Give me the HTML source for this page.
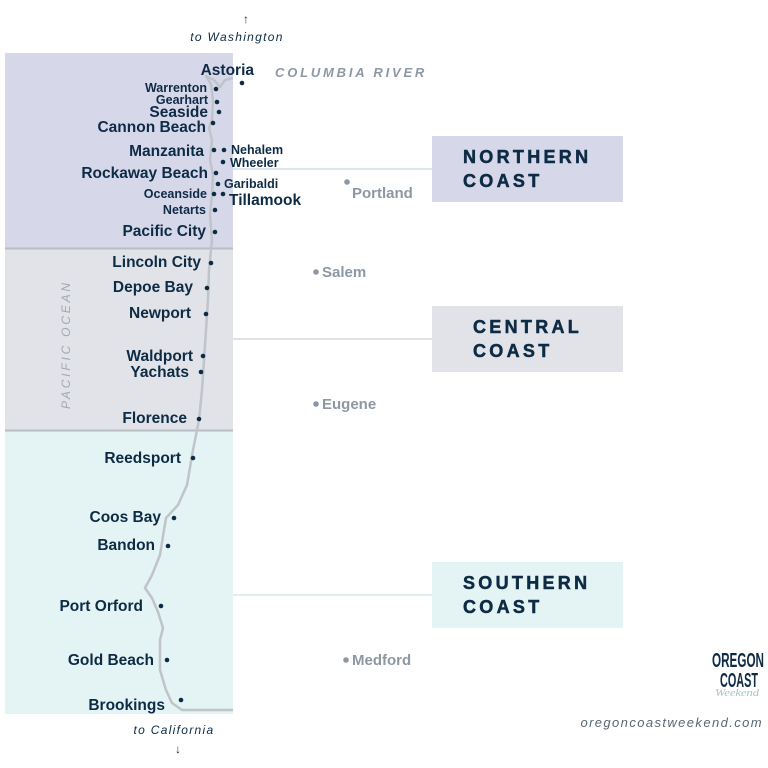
<!DOCTYPE html>
<html><head><meta charset="utf-8"><style>
html,body{margin:0;padding:0;background:#fff;}
svg{display:block;font-family:"Liberation Sans",sans-serif;}
.c{fill:#0d2b45;font-weight:bold;}
.g{fill:#8e98a4;font-weight:bold;font-size:15px;}
.b{fill:#0d2b45;font-weight:900;font-size:18px;letter-spacing:3.3px;stroke:#0d2b45;stroke-width:0.5px;}
</style></head><body>
<svg width="768" height="768" viewBox="0 0 768 768">
<rect x="5" y="53" width="228" height="195" fill="#d7d7ea"/>
<rect x="5" y="248" width="228" height="182" fill="#e1e3e8"/>
<rect x="5" y="430" width="228" height="284" fill="#e4f3f3"/>
<line x1="5" y1="248.5" x2="233" y2="248.5" stroke="#b8bec6" stroke-width="2"/>
<line x1="5" y1="430.5" x2="233" y2="430.5" stroke="#b8bec6" stroke-width="2"/>
<line x1="233" y1="169" x2="432" y2="169" stroke="#dde6ea" stroke-width="2"/>
<line x1="233" y1="339" x2="432" y2="339" stroke="#dde2e6" stroke-width="2"/>
<line x1="233" y1="595" x2="432" y2="595" stroke="#e0eeee" stroke-width="2"/>
<rect x="432" y="136" width="191" height="66" fill="#d7d7ea"/>
<rect x="432" y="306" width="191" height="66" fill="#e1e3e8"/>
<rect x="432" y="562" width="191" height="66" fill="#e4f3f3"/>
<text class="b" x="463" y="163">NORTHERN</text><text class="b" x="463" y="187">COAST</text>
<text class="b" x="473" y="333">CENTRAL</text><text class="b" x="473" y="357">COAST</text>
<text class="b" x="463" y="589">SOUTHERN</text><text class="b" x="463" y="613">COAST</text>
<path d="M233,78 L225,80 L220,87 L214,80 L206,76 L211,84 L213,100 L212,120 L209,128 L212,140 L210,160 L213,175 L212,195 L210,215 L212,240 L209,270 L208,300 L206,330 L204,360 L202,390 L199,420 L193,450 L187,485 L178,505 L166,518 L164,530 L160,555 L152,575 L145,588 L152,598 L158,612 L163,628 L160,640 L160,670 L166,690 L172,703 L182,710 L233,710" fill="none" stroke="#bfc4ca" stroke-width="2.5" stroke-linejoin="round"/>
<g fill="#0d2b45">
<circle cx="242" cy="83" r="2.3"/><circle cx="216" cy="89" r="2.3"/><circle cx="217" cy="102" r="2.3"/><circle cx="219" cy="112" r="2.3"/><circle cx="213" cy="123" r="2.3"/><circle cx="214" cy="150" r="2.3"/><circle cx="224" cy="150" r="2.3"/><circle cx="223" cy="162" r="2.3"/><circle cx="216" cy="173" r="2.3"/><circle cx="218" cy="184" r="2.3"/><circle cx="214" cy="194" r="2.3"/><circle cx="223" cy="194" r="2.3"/><circle cx="215" cy="210" r="2.3"/><circle cx="215" cy="232" r="2.3"/>
<circle cx="211" cy="263" r="2.3"/><circle cx="207" cy="288" r="2.3"/><circle cx="206" cy="314" r="2.3"/><circle cx="203" cy="356" r="2.3"/><circle cx="201" cy="372" r="2.3"/><circle cx="199" cy="419" r="2.3"/><circle cx="193" cy="458" r="2.3"/><circle cx="174" cy="518" r="2.3"/><circle cx="168" cy="546" r="2.3"/><circle cx="161" cy="606" r="2.3"/><circle cx="167" cy="660" r="2.3"/><circle cx="181" cy="700" r="2.3"/>
</g>
<g class="c" font-size="15.5" text-anchor="end">
<text x="254" y="75">Astoria</text>
<text x="207" y="92" font-size="12.5">Warrenton</text>
<text x="208" y="104" font-size="12.5">Gearhart</text>
<text x="208" y="117">Seaside</text>
<text x="206" y="132">Cannon Beach</text>
<text x="204" y="156">Manzanita</text>
<text x="208" y="178">Rockaway Beach</text>
<text x="207" y="198" font-size="12.5">Oceanside</text>
<text x="206" y="214" font-size="12.5">Netarts</text>
<text x="206" y="236">Pacific City</text>
<text x="201" y="267">Lincoln City</text>
<text x="193" y="292">Depoe Bay</text>
<text x="191" y="318">Newport</text>
<text x="193" y="361">Waldport</text>
<text x="189" y="377">Yachats</text>
<text x="187" y="423">Florence</text>
<text x="181" y="463">Reedsport</text>
<text x="161" y="522">Coos Bay</text>
<text x="155" y="550">Bandon</text>
<text x="143" y="611">Port Orford</text>
<text x="154" y="665">Gold Beach</text>
<text x="165" y="710">Brookings</text>
</g>
<g class="c" font-size="12.5">
<text x="231" y="154">Nehalem</text>
<text x="230" y="167">Wheeler</text>
<text x="224" y="188">Garibaldi</text>
<text x="229" y="205" font-size="15.5">Tillamook</text>
</g>
<g fill="#8e98a4"><circle cx="347" cy="182" r="2.8"/><circle cx="316" cy="272" r="2.8"/><circle cx="316" cy="404" r="2.8"/><circle cx="346" cy="660" r="2.8"/></g>
<text class="g" x="352" y="198">Portland</text>
<text class="g" x="322" y="277">Salem</text>
<text class="g" x="322" y="409">Eugene</text>
<text class="g" x="352" y="665">Medford</text>
<text x="275" y="77" fill="#8e98a4" font-size="13" font-style="italic" font-weight="bold" letter-spacing="2.8">COLUMBIA RIVER</text>
<text x="70" y="409" fill="#a0a8b2" font-size="12" font-style="italic" letter-spacing="2.8" transform="rotate(-90 70 409)">PACIFIC OCEAN</text>
<text x="246" y="23" fill="#0d2b45" font-size="12" text-anchor="middle">↑</text>
<text x="237" y="41" fill="#0d2b45" font-size="12" font-style="italic" letter-spacing="1.3" text-anchor="middle">to Washington</text>
<text x="174" y="734" fill="#0d2b45" font-size="12" font-style="italic" letter-spacing="1.3" text-anchor="middle">to California</text>
<text x="178" y="753" fill="#0d2b45" font-size="12" text-anchor="middle">↓</text>
<text x="763" y="727" fill="#5a6673" font-size="13" font-style="italic" letter-spacing="1.4" text-anchor="end">oregoncoastweekend.com</text>
<g fill="#0d2b45" font-weight="bold" font-size="20">
<text x="712" y="667" textLength="52" lengthAdjust="spacingAndGlyphs">OREGON</text>
<text x="720" y="687" textLength="38" lengthAdjust="spacingAndGlyphs">COAST</text>
</g>
<text x="715" y="696" fill="#a8c4c8" font-size="11" font-style="italic" textLength="44" lengthAdjust="spacingAndGlyphs" font-family="'Liberation Serif',serif">Weekend</text>
</svg>
</body></html>
